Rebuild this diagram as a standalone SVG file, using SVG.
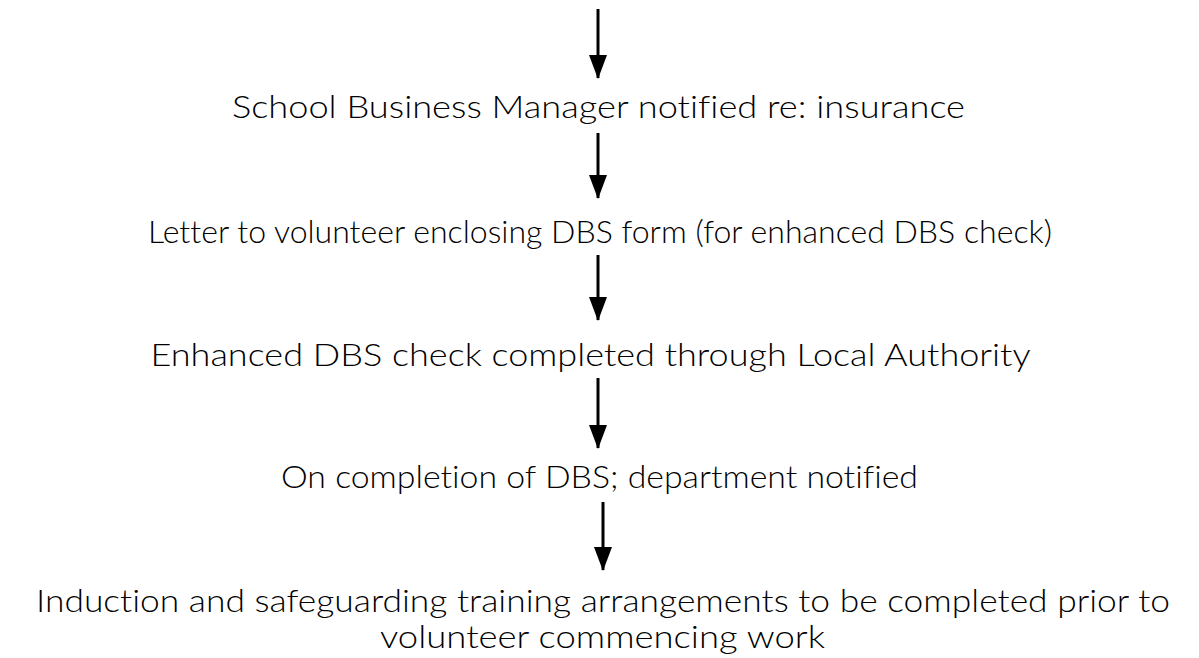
<svg xmlns="http://www.w3.org/2000/svg" width="1199" height="658" viewBox="0 0 1199 658">
<defs>
<marker id="ah" markerWidth="24" markerHeight="18" refX="23" refY="9" orient="auto" markerUnits="userSpaceOnUse" viewBox="0 0 24 18">
<path d="M0,0 L24,9 L0,18 Z" fill="#000"/>
</marker>
<style>
text{font-family:Lato,"Liberation Sans",sans-serif;font-weight:300;font-size:31px;fill:#000;text-anchor:middle;font-variant-ligatures:none}
.c{stroke:#000;stroke-width:3;fill:none}
</style>
</defs>
<rect width="1199" height="658" fill="#fff"/>
<g id="connectors">
<line class="c" x1="598" y1="9" x2="598" y2="78" marker-end="url(#ah)"/>
<line class="c" x1="598" y1="133" x2="598" y2="198" marker-end="url(#ah)"/>
<line class="c" x1="598" y1="255" x2="598" y2="320" marker-end="url(#ah)"/>
<line class="c" x1="598" y1="378" x2="598" y2="448" marker-end="url(#ah)"/>
<line class="c" x1="603" y1="502" x2="603" y2="570" marker-end="url(#ah)"/>
</g>
<g id="n1"><text x="598.5" y="118" textLength="733" lengthAdjust="spacingAndGlyphs">School Business Manager notified re: insurance</text></g>
<g id="n2"><text x="600" y="243" textLength="904" lengthAdjust="spacingAndGlyphs">Letter to volunteer enclosing DBS form (for enhanced DBS check)</text></g>
<g id="n3"><text x="590.5" y="366" textLength="880" lengthAdjust="spacingAndGlyphs">Enhanced DBS check completed through Local Authority</text></g>
<g id="n4"><text x="599.5" y="488" textLength="637" lengthAdjust="spacingAndGlyphs">On completion of DBS; department notified</text></g>
<g id="n5"><text x="603" y="612" textLength="1134" lengthAdjust="spacingAndGlyphs">Induction and safeguarding training arrangements to be completed prior to</text>
<text x="602.5" y="648" textLength="445" lengthAdjust="spacingAndGlyphs">volunteer commencing work</text></g>
</svg>
